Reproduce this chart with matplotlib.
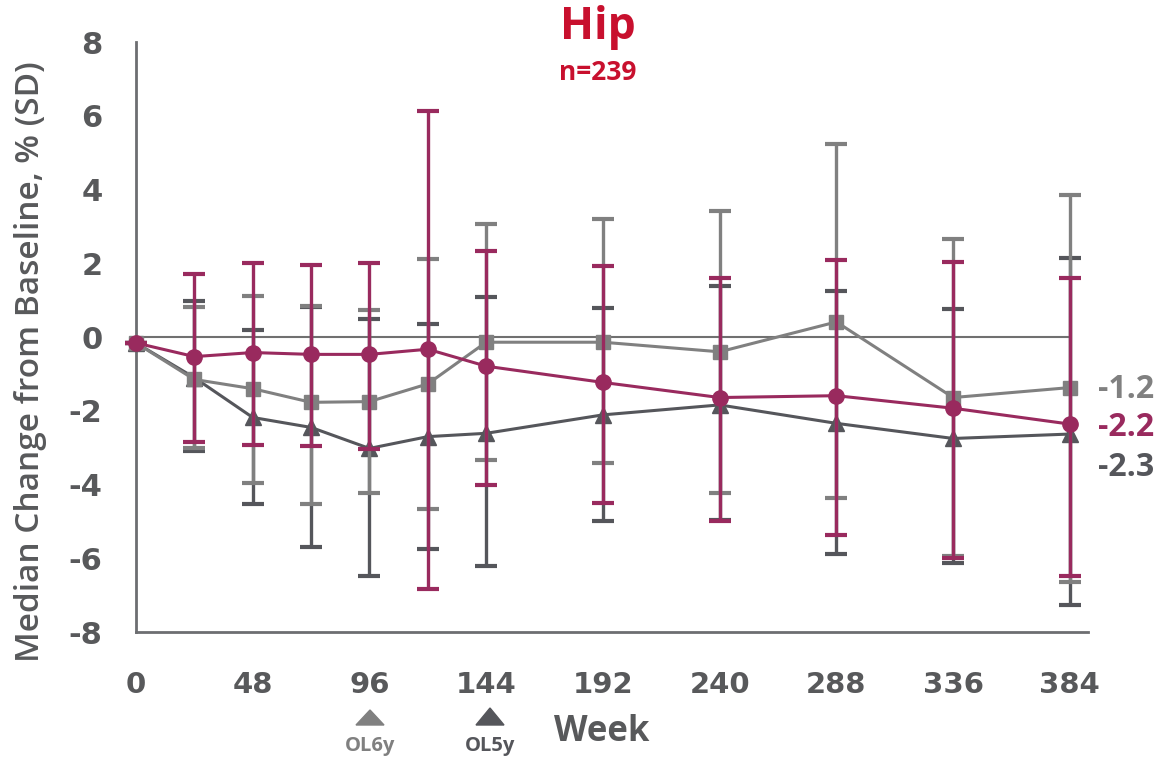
import numpy as np
import matplotlib
matplotlib.use('Agg')
import matplotlib.pyplot as plt
from matplotlib.patches import Polygon

# weeks on study
weeks = [0, 24, 48, 72, 96, 120, 144, 192, 240, 288, 336, 384]

# magenta series (circles)
mag_med = [-0.16, -0.53, -0.42, -0.47, -0.47, -0.33, -0.79, -1.23, -1.64, -1.59, -1.93, -2.36]
mag_hi = [-0.16, 1.71, 2.00, 1.95, 2.00, 6.12, 2.33, 1.92, 1.59, 2.09, 2.04, 1.59]
mag_lo = [-0.16, -2.84, -2.92, -2.95, -3.03, -6.83, -4.01, -4.51, -4.99, -5.37, -6.00, -6.47]

# light gray series (squares) - OL6y
lg_med = [-0.16, -1.15, -1.40, -1.77, -1.75, -1.27, -0.14, -0.14, -0.40, 0.41, -1.64, -1.37]
lg_hi = [-0.16, 0.81, 1.10, 0.85, 0.73, 2.12, 3.07, 3.19, 3.43, 5.24, 2.66, 3.84]
lg_lo = [-0.16, -3.00, -3.95, -4.53, -4.24, -4.65, -3.34, -3.41, -4.24, -4.36, -5.93, -6.63]

# dark gray series (triangles) - OL5y
dg_med = [-0.16, -1.10, -2.18, -2.45, -3.02, -2.70, -2.61, -2.11, -1.84, -2.34, -2.75, -2.63]
dg_hi = [-0.16, 0.97, 0.19, 0.82, 0.48, 0.35, 1.08, 0.80, 1.38, 1.25, 0.76, 2.15]
dg_lo = [-0.16, -3.08, -4.54, -5.69, -6.47, -5.74, -6.22, -5.00, -4.95, -5.89, -6.13, -7.26]

end_labels = ['-1.2', '-2.2', '-2.3']
xticks = [0, 48, 96, 144, 192, 240, 288, 336, 384]
yticks = [-8, -6, -4, -2, 0, 2, 4, 6, 8]

MAG = '#992a5e'
LG = '#808080'
DG = '#55565b'
TXT = '#58595b'
RED = '#c8102e'

W, H = 1165, 757
fig = plt.figure(figsize=(11.65, 7.57), dpi=100)
ax = fig.add_axes([0.1167, 0.165, 0.8173, 0.7795])

ax.hlines(0, weeks[0], weeks[-1], color='#707070', lw=1.5, zorder=1)

def series(med, lo, hi, color, marker, ms, z):
    med = np.array(med); lo = np.array(lo); hi = np.array(hi)
    yerr = [med - lo, hi - med]
    ax.errorbar(weeks, med, yerr=yerr, color=color, lw=2.2, marker=marker, ms=ms,
                elinewidth=2.4, capsize=8, capthick=3, zorder=z, clip_on=False)

series(dg_med, dg_lo, dg_hi, DG, '^', 11, 3)
series(lg_med, lg_lo, lg_hi, LG, 's', 10, 4)
series(mag_med, mag_lo, mag_hi, MAG, 'o', 11, 5)

ax.set_xlim(0, 391.5)
ax.set_ylim(-8, 8)
ax.set_xticks(xticks)
ax.set_yticks(yticks)
ax.set_xticklabels([str(t) for t in xticks], fontsize=21, fontweight='bold', color=TXT)
ax.set_yticklabels([str(t) for t in yticks], fontsize=22, fontweight='bold', color=TXT)
ax.tick_params(axis='x', length=0, pad=28)
ax.tick_params(axis='y', length=0, pad=24)
for s in ['top', 'right']:
    ax.spines[s].set_visible(False)
for s in ['left', 'bottom']:
    ax.spines[s].set_color('#6d6e71')
    ax.spines[s].set_linewidth(2)

ax.set_ylabel('Median Change from Baseline, % (SD)', fontsize=24, fontweight='semibold',
              color=TXT, family='Open Sans')
ax.yaxis.set_label_coords(-0.093, 0.458)

# end-of-line values
ax.text(1098 / W, 1 - 389 / H, end_labels[0], transform=fig.transFigure, fontsize=23,
        fontweight='bold', color=LG, va='center', ha='left', family='Open Sans')
ax.text(1098 / W, 1 - 428 / H, end_labels[1], transform=fig.transFigure, fontsize=23,
        fontweight='bold', color=MAG, va='center', ha='left', family='Open Sans')
ax.text(1098 / W, 1 - 467 / H, end_labels[2], transform=fig.transFigure, fontsize=23,
        fontweight='bold', color=DG, va='center', ha='left', family='Open Sans')

# title
fig.text(598 / W, 1 - 28 / H, 'Hip', fontsize=32, fontweight='bold', color=RED,
         ha='center', va='center', family='Open Sans')
fig.text(598 / W, 1 - 73 / H, 'n=239', fontsize=19, fontweight='bold', color=RED,
         ha='center', va='center', family='Open Sans')

# x axis title and OL markers
fig.text(602 / W, 1 - 732 / H, 'Week', fontsize=25, fontweight='bold', color=TXT,
         ha='center', va='center', family='Open Sans')

def flat_tri(cx, top, bot, hw, color):
    pts = [(cx / W, 1 - top / H), ((cx - hw) / W, 1 - bot / H), ((cx + hw) / W, 1 - bot / H)]
    fig.add_artist(Polygon(pts, closed=True, color=color, transform=fig.transFigure))

flat_tri(370, 710, 725, 14, LG)
flat_tri(490, 708, 725, 14, DG)
fig.text(370 / W, 1 - 746 / H, 'OL6y', fontsize=14.5, fontweight='bold', color=LG,
         ha='center', va='center', family='Open Sans')
fig.text(490 / W, 1 - 746 / H, 'OL5y', fontsize=14.5, fontweight='bold', color=DG,
         ha='center', va='center', family='Open Sans')

fig.savefig('out.png', dpi=100)
